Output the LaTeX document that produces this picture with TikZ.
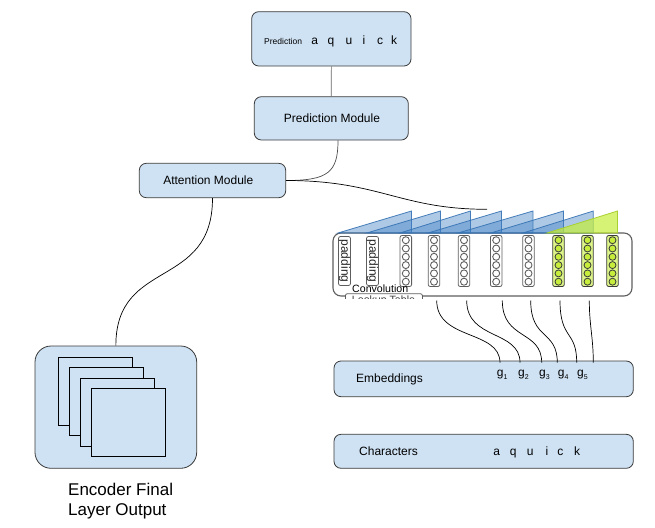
\documentclass[tikz,border=0pt]{standalone}
\usepackage{fontspec}
\setmainfont{Liberation Sans}
\usetikzlibrary{calc}
\definecolor{boxblue}{HTML}{CFE2F3}
\definecolor{edgegray}{HTML}{3A3A3A}
\definecolor{triblue}{HTML}{3F7FC2}
\definecolor{triedge}{HTML}{3572B4}
\definecolor{limefill}{HTML}{C6EE3A}
\definecolor{limeedge}{HTML}{A8D030}
\definecolor{convgray}{HTML}{5E5E5E}
\begin{document}
\begin{tikzpicture}[x=1pt,y=-1pt,
  box/.style={draw=edgegray, fill=boxblue, rounded corners=7pt, line width=0.8pt, inner sep=0pt},
  lbl/.style={font=\fontsize{12}{14}\selectfont, inner sep=0pt},
  small/.style={font=\fontsize{8.5}{10}\selectfont, inner sep=0pt},
  conn/.style={draw=black, line width=0.7pt},
  tri/.style={fill=triblue, fill opacity=0.42, draw=triedge, draw opacity=0.9, line width=0.8pt},
  gtri/.style={fill=limefill, fill opacity=0.7, draw=limeedge, line width=0.8pt},
  colrect/.style={draw=convgray, fill=white, rounded corners=2pt, line width=0.8pt},
  gcolrect/.style={draw=edgegray, fill=limefill!60, rounded corners=2pt, line width=0.8pt},
  circ/.style={draw=convgray, fill=white, line width=0.9pt},
  gcirc/.style={draw=edgegray, fill=limefill, line width=0.8pt},
  sq/.style={draw=black, fill=boxblue, line width=0.8pt}]
\useasboundingbox (0,0) rectangle (655,527);

% ---- top boxes ----
\node[box, minimum width=159.3pt, minimum height=54.3pt] (pred) at (331.35,38.85) {};
\node[small, anchor=base west] (predlbl) at (264,44.8) {Prediction};
\foreach \c/\x in {a/314.7,q/331,u/349,i/364,c/380,k/394}
  \node[lbl, anchor=base] (p\c) at (\x,44.8) {\c};

\node[box, minimum width=154pt, minimum height=43.3pt] (pm) at (331.3,118.35) {};
\node[lbl] (pmlbl) at (332,118.6) {Prediction Module};

\node[box, minimum width=146.4pt, minimum height=34.4pt] (am) at (212.5,180.5) {};
\node[lbl] (amlbl) at (208.3,180.6) {Attention Module};

% ---- encoder ----
\node[box, rounded corners=16pt, minimum width=161.7pt, minimum height=122.3pt] (enc) at (115.85,407.15) {};
\foreach \i in {0,1,2,3}
  \draw[sq] (58.3+10.9*\i,357.3+10.35*\i) rectangle ++(74,68);
\node[anchor=base west, inner sep=0pt, font=\fontsize{17}{20}\selectfont] (enc1) at (68,495) {Encoder Final};
\node[anchor=base west, inner sep=0pt, font=\fontsize{17}{20}\selectfont] (enc2) at (68,515) {Layer Output};

% ---- embeddings / characters ----
\node[box, minimum width=299.3pt, minimum height=35.7pt] (emb) at (483.65,378.85) {};
\node[lbl, anchor=base west] (emblbl) at (356,382.3) {Embeddings};
\foreach \n/\x in {1/496.7,2/518,3/539,4/557.7,5/577}
  \node[lbl, anchor=base west] (g\n) at (\x,376) {g\raisebox{-3pt}{\fontsize{7}{8}\selectfont\n}};

\node[box, minimum width=299.3pt, minimum height=34pt] (chars) at (483.65,451.3) {};
\node[lbl, anchor=base west] (charlbl) at (359,455) {Characters};
\foreach \c/\x in {a/496.7,q/513.3,u/530.3,i/547,c/560.3,k/577}
  \node[lbl, anchor=base] (c\c) at (\x,455) {\c};

% ---- convolution picture ----
\begin{scope}
\clip (325,195) rectangle (645,298.5);
\node[draw=convgray, rounded corners=8pt, line width=1.1pt, minimum width=299pt, minimum height=63pt, inner sep=0pt] (conv) at (482.5,264.5) {};
% padding columns
\foreach \x in {344.5,372.5}{
  \draw[colrect] (\x-6,236.5) rectangle (\x+6,285.5);
  \node[rotate=-90, inner sep=0pt, font=\fontsize{12}{13}\selectfont, text=black!85] at (\x,261) {padding};
}
% grey columns
\foreach \x in {405.8,434,464,496.2,528.5}{
  \draw[colrect] (\x-5.8,235.5) rectangle (\x+5.8,286.5);
  \foreach \i in {0,...,5}
    \draw[circ] (\x,240.2+\i*8.3) circle (3.5pt);
}
% green columns
\foreach \x in {558.5,587.5,612.5}{
  \draw[gcolrect] (\x-5.8,235.5) rectangle (\x+5.8,286.5);
  \foreach \i in {0,...,5}
    \draw[gcirc] (\x,240.2+\i*8.3) circle (3.5pt);
}
% kernel triangles
\foreach \l/\r in {338/411.5,366.7/440.5,400/470.5,428/501.5,458/533,490.7/563.5,523/593.3}
  \draw[tri] (\l,233) -- (\r,233) -- (\r,211) -- cycle;
\draw[gtri] (547,233) -- (617.5,233) -- (617.5,211) -- cycle;
% labels
\node[draw=convgray, fill=white, rounded corners=2pt, line width=0.8pt, minimum width=77pt, minimum height=14pt, inner sep=0pt, anchor=north west] (tab) at (345,293.3) {};
\node[anchor=base, inner sep=0pt, font=\fontsize{10.6}{12}\selectfont, text=black!75] (tablbl) at (383.5,303.5) {Lookup Table};
\node[anchor=base west, inner sep=0pt, font=\fontsize{10.6}{12}\selectfont] (convlbl) at (352,292.3) {Convolution};
\end{scope}

% ---- connectors ----
\coordinate (ktop) at (487,209.3);
\draw[conn, draw=black!60] (pred.south) -- (pm.north);
\draw[conn, draw=black!70] ([xshift=6.7pt]pm.south) .. controls +(0,32) and +(42,0) .. (am.east);
\draw[conn] (am.east) .. controls +(94,0) and +(-87,0) .. (ktop);
\draw[conn] (am.south) .. controls +(0,92) and +(0,-88) .. (enc.north);

\foreach \n/\xs/\xe in {1/436.7/500,2/466.7/520,3/502.3/541.7,4/530.7/557.3,5/560/576.7}{
  \coordinate (s\n) at (\xs,300.5);
  \coordinate (t\n) at (\xe,362.7);
  \draw[conn] (s\n) .. controls +(0,40) and +(0,-33) .. (t\n);
}
\coordinate (s6) at (589.3,300.5);
\coordinate (t6) at (593.3,362.7);
\draw[conn] (s6) .. controls +(0,25) and +(0,-25) .. (t6);
\end{tikzpicture}
\end{document}
